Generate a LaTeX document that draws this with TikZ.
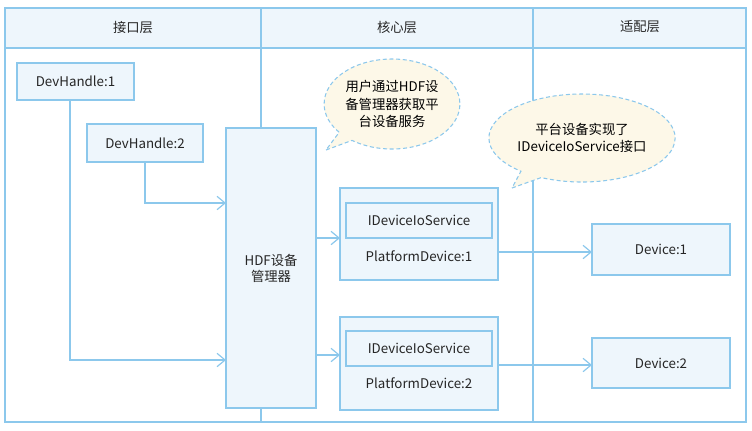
\documentclass[tikz,border=0pt]{standalone}
\usepackage{fontspec}
\setmainfont{Noto Sans CJK SC}
\usetikzlibrary{arrows.meta,shapes.callouts}
\definecolor{lineblue}{HTML}{8CC8EC}
\definecolor{boxfill}{HTML}{EEF6FC}
\definecolor{bubfill}{HTML}{FDF8E8}
\tikzset{
  box/.style={draw=lineblue,fill=boxfill,line width=0.9pt},
  lbl/.style={font=\fontsize{10}{12}\selectfont,text=black!85},
  link/.style={draw=lineblue,line width=0.9pt,-{Straight Barb[length=6pt,width=10pt]}},
  bubble/.style={ellipse callout,draw=lineblue,dash pattern=on 3pt off 2pt,fill=bubfill,line width=0.8pt,
    font=\fontsize{10}{13}\selectfont,align=center,inner sep=1pt}
}
\begin{document}
\begin{tikzpicture}[x=0.75pt,y=-0.75pt]
\useasboundingbox (0,0) rectangle (752,430);
% frame and columns
\fill[boxfill] (5,8) rectangle (746,48);
\draw[lineblue,line width=0.9pt] (5,8) rectangle (746,422) (5,48) -- (746,48)
  (261,8) -- (261,422) (533,8) -- (533,422);
\node[lbl] (hdrA) at (133,27) {接口层};
\node[lbl] (hdrB) at (397,27) {核心层};
\node[lbl] (hdrC) at (640,27) {适配层};
% boxes
\draw[box] (17,63) rectangle (134,100);
\node[lbl] (dh1) at (75.5,81.5) {DevHandle:1};
\draw[box] (87,124) rectangle (203,162);
\node[lbl] (dh2) at (145,143) {DevHandle:2};
\draw[box] (226,128) rectangle (316,408);
\node[lbl,align=center] (hdf) at (271,268) {HDF设备\\管理器};
\draw[box] (340,188) rectangle (498,280);
\draw[box] (346,203) rectangle (492,238);
\node[lbl] (io1) at (419,220.5) {IDeviceIoService};
\node[lbl] (pd1) at (419,256) {PlatformDevice:1};
\draw[box] (340,317) rectangle (498,410);
\draw[box] (346,331) rectangle (492,366);
\node[lbl] (io2) at (419,348.5) {IDeviceIoService};
\node[lbl] (pd2) at (419,383) {PlatformDevice:2};
\draw[box] (592,224) rectangle (730,275);
\node[lbl] (dev1) at (661,249.5) {Device:1};
\draw[box] (592,338) rectangle (730,388);
\node[lbl] (dev2) at (661,363) {Device:2};
% connectors
\coordinate (hdfA) at (226,360);
\coordinate (hdfB) at (226,203);
\draw[link] (70,100) |- (hdfA);
\draw[link] (145,162) |- (hdfB);
\draw[link] (316,238) -- (340,238);
\draw[link] (316,355) -- (340,355);
\draw[link] (498,252) -- (592,252);
\draw[link] (498,365) -- (592,365);
% callouts
\node[bubble,minimum width=125*0.75pt,minimum height=90*0.75pt,callout absolute pointer={(326*0.75pt,-150*0.75pt)}] (tipA) at (392,104) {用户通过HDF设\\备管理器获取平\\台设备服务};
\node[bubble,minimum width=140*0.75pt,minimum height=88*0.75pt,callout absolute pointer={(512*0.75pt,-188*0.75pt)}] (tipB) at (582,138) {平台设备实现了\\IDeviceIoService接口};
\end{tikzpicture}
\end{document}
